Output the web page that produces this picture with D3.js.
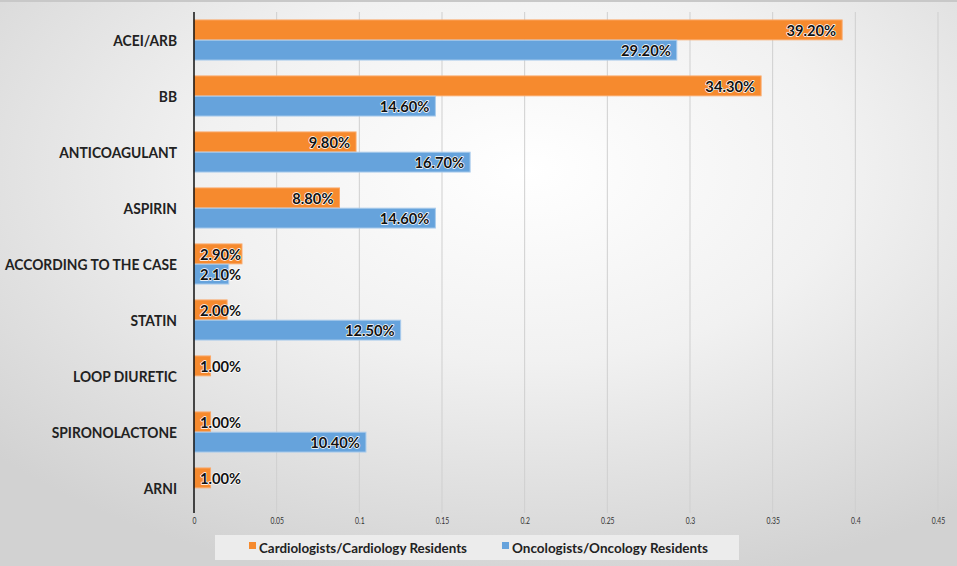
<!doctype html>
<html>
<head>
<meta charset="utf-8">
<script src="https://d3js.org/d3.v7.min.js"></script>
<style>
  body { margin: 0; }
  svg { display: block; }
  .cat { font-family: Lato, "Open Sans", sans-serif; font-weight: bold; font-size: 15.5px; fill: #222; }
  .val { font-family: Lato, "Open Sans", sans-serif; font-weight: bold; font-size: 16px; fill: #111; }
  .tick text { font-family: Lato, "Open Sans", sans-serif; font-size: 8.5px; fill: #333; }
  .leg { font-family: Lato, "Open Sans", sans-serif; font-weight: bold; font-size: 13.5px; fill: #222; }
</style>
</head>
<body>
<svg width="957" height="566"></svg>
<script>

var categories = ["ACEI/ARB", "BB", "ANTICOAGULANT", "ASPIRIN", "ACCORDING TO THE CASE",
                  "STATIN", "LOOP DIURETIC", "SPIRONOLACTONE", "ARNI"];
var seriesNames = ["Cardiologists/Cardiology Residents", "Oncologists/Oncology Residents"];
var cardio = [0.392, 0.343, 0.098, 0.088, 0.029, 0.020, 0.010, 0.010, 0.010];
var onco   = [0.292, 0.146, 0.167, 0.146, 0.021, 0.125, null, 0.104, null];
var tickValues = [0, 0.05, 0.1, 0.15, 0.2, 0.25, 0.3, 0.35, 0.4, 0.45];
var colors = ["#f68a2e", "#66a3dc"];
var strokes = ["#fba766", "#a9cbec"];

var svg = d3.select("svg"),
    W = +svg.attr("width"),
    H = +svg.attr("height");

// squeeze a text horizontally (Calibri-like narrow look)
function narrow(sel, k) {
  sel.each(function() {
    var n = this.getComputedTextLength();
    d3.select(this).attr("textLength", n * k).attr("lengthAdjust", "spacingAndGlyphs");
  });
}

// background: soft grey radial wash like the slide
var defs = svg.append("defs");
var rg = defs.append("radialGradient").attr("id", "bg")
    .attr("cx", "0.55").attr("cy", "0.3").attr("r", "0.75");
rg.append("stop").attr("offset", "0").attr("stop-color", "#ffffff");
rg.append("stop").attr("offset", "0.45").attr("stop-color", "#f1f1f1");
rg.append("stop").attr("offset", "1").attr("stop-color", "#d2d2d2");
svg.append("rect").attr("width", W).attr("height", H).attr("fill", "url(#bg)");
svg.append("rect").attr("width", W).attr("height", 2).attr("fill", "#c8c8c8");

var x = d3.scaleLinear().domain([0, 0.45]).range([194, 938]);
var y = d3.scaleBand().domain(categories).range([12, 516])
    .paddingInner(0.27).paddingOuter(0.135);
var ySub = d3.scaleBand().domain([0, 1]).range([0, y.bandwidth()]).padding(0.02);

// grid
svg.append("g").selectAll("line")
  .data(tickValues.slice(1))
  .enter().append("line")
  .attr("x1", function(d) { return x(d); })
  .attr("x2", function(d) { return x(d); })
  .attr("y1", 12).attr("y2", 513)
  .attr("stroke", "#cfcfcf").attr("stroke-width", 1);

// x axis labels
var xa = svg.append("g")
  .attr("transform", "translate(0,513)")
  .call(d3.axisBottom(x).tickValues(tickValues).tickSize(0).tickPadding(5)
        .tickFormat(function(d) { return String(d); }));
xa.select(".domain").remove();
narrow(xa.selectAll("text"), 0.8);

var rows = categories.map(function(c, i) { return { cat: c, vals: [cardio[i], onco[i]] }; });

var g = svg.append("g");
var row = g.selectAll(".row").data(rows).enter().append("g")
  .attr("class", "row")
  .attr("transform", function(d) { return "translate(0," + y(d.cat) + ")"; });

function present(d) {
  return d.vals.map(function(v, k) { return { v: v, k: k }; })
              .filter(function(e) { return e.v != null; });
}

row.selectAll("rect")
  .data(present)
  .enter().append("rect")
  .attr("x", x(0))
  .attr("y", function(d) { return ySub(d.k); })
  .attr("width", function(d) { return x(d.v) - x(0); })
  .attr("height", ySub.bandwidth())
  .attr("fill", function(d) { return colors[d.k]; })
  .attr("stroke", function(d) { return strokes[d.k]; })
  .attr("stroke-width", 1);

var vals = row.selectAll("text.val")
  .data(present)
  .enter().append("text")
  .attr("class", "val")
  .attr("y", function(d) { return ySub(d.k) + ySub.bandwidth() / 2; })
  .attr("dy", "0.36em")
  .attr("text-anchor", "end")
  .attr("paint-order", "stroke")
  .attr("stroke", "#ffffff").attr("stroke-width", 1.5).attr("stroke-linejoin", "round")
  .text(function(d) { return (d.v * 100).toFixed(2) + "%"; });
narrow(vals, 0.92);
vals.attr("x", function(d) {
    var tw = +d3.select(this).attr("textLength");
    return Math.max(x(d.v) - 6, x(0) + 6 + tw);
});

// category labels
var cats = svg.append("g").selectAll("text")
  .data(categories)
  .enter().append("text")
  .attr("class", "cat")
  .attr("x", 177)
  .attr("y", function(d) { return y(d) + y.bandwidth() / 2; })
  .attr("dy", "0.36em")
  .attr("text-anchor", "end")
  .text(function(d) { return d; });
var longest = d3.max(cats.nodes(), function(n) { return n.getComputedTextLength(); });
narrow(cats, Math.min(1, 172 / longest));

// axis line
svg.append("line")
  .attr("x1", x(0)).attr("x2", x(0))
  .attr("y1", 12).attr("y2", 513)
  .attr("stroke", "#111").attr("stroke-width", 1.5);

// legend
var lg = svg.append("g");
lg.append("rect").attr("x", 215).attr("y", 535).attr("width", 524).attr("height", 25)
  .attr("fill", "#ececec");
var legX = [249, 502];
var legW = [208, 196];
seriesNames.forEach(function(s, k) {
  lg.append("rect").attr("x", legX[k]).attr("y", 542).attr("width", 7).attr("height", 7)
    .attr("fill", colors[k]);
  lg.append("text").attr("class", "leg")
    .attr("x", legX[k] + 10).attr("y", 548).attr("dy", "0.36em")
    .attr("textLength", legW[k]).attr("lengthAdjust", "spacingAndGlyphs")
    .text(s);
});

</script>
</body>
</html>
